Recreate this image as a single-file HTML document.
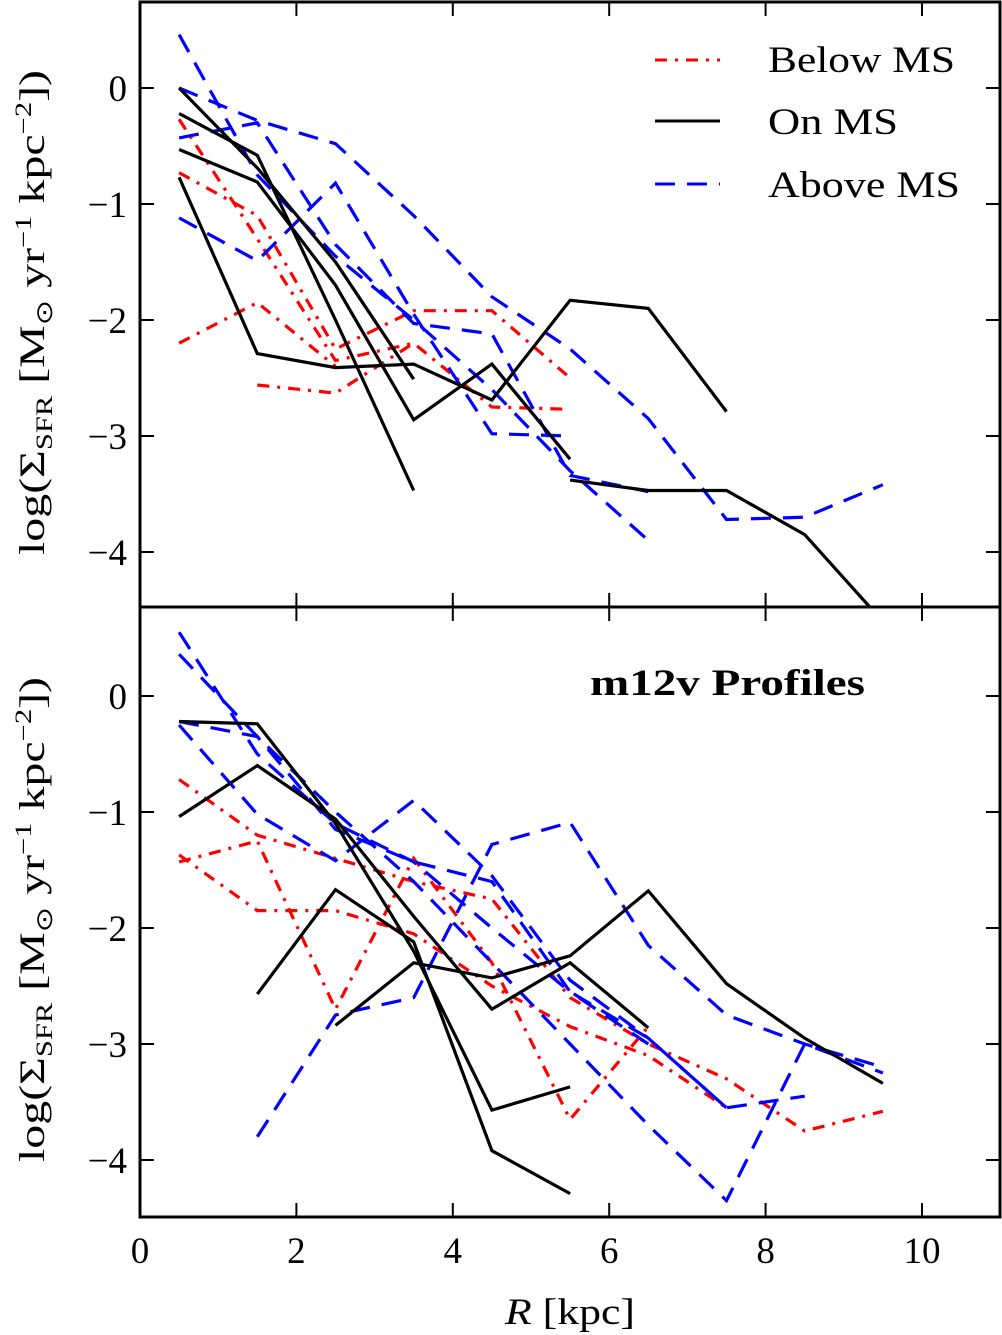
<!DOCTYPE html>
<html><head><meta charset="utf-8">
<style>
body{margin:0;background:#fff;}
svg{display:block;font-family:"Liberation Serif",serif;}
</style></head>
<body>
<svg id="chart" width="1002" height="1335" viewBox="0 0 1002 1335" xmlns="http://www.w3.org/2000/svg">
<defs>
<clipPath id="clipTop"><rect x="140" y="2" width="860" height="605"/></clipPath>
<clipPath id="clipBot"><rect x="140" y="607" width="860" height="610"/></clipPath>
</defs>
<g id="topSeries" clip-path="url(#clipTop)"></g>
<g id="botSeries" clip-path="url(#clipBot)"></g>
<g id="axes"></g>
<g>
  <line x1="655" y1="60" x2="720" y2="60" stroke="#f00" stroke-width="3" stroke-dasharray="12,8,3,8"/>
  <text x="768" y="72" font-size="37" textLength="187" lengthAdjust="spacingAndGlyphs">Below MS</text>
  <line x1="655" y1="121" x2="720" y2="121" stroke="#000" stroke-width="3"/>
  <text x="768" y="134" font-size="37" textLength="130" lengthAdjust="spacingAndGlyphs">On MS</text>
  <line x1="655" y1="184" x2="720" y2="184" stroke="#00f" stroke-width="3" stroke-dasharray="20,12"/>
  <text x="768" y="197" font-size="37" textLength="192" lengthAdjust="spacingAndGlyphs">Above MS</text>
</g>
<text x="590" y="695" font-size="37" font-weight="bold" textLength="275" lengthAdjust="spacingAndGlyphs">m12v Profiles</text>
<text x="505" y="1324" font-size="37" textLength="130" lengthAdjust="spacingAndGlyphs"><tspan font-style="italic">R</tspan> [kpc]</text>
<text x="0" y="0" transform="translate(44,555) rotate(-90)" font-size="36" textLength="485" lengthAdjust="spacingAndGlyphs">log(Σ<tspan font-size="23" dy="8">SFR</tspan><tspan dy="-8"> [M</tspan><tspan font-size="23" dy="8">⊙</tspan><tspan dy="-8"> yr</tspan><tspan font-size="23" dy="-13">−1</tspan><tspan dy="13"> kpc</tspan><tspan font-size="23" dy="-13">−2</tspan><tspan dy="13">])</tspan></text>
<text x="0" y="0" transform="translate(44,1162) rotate(-90)" font-size="36" textLength="485" lengthAdjust="spacingAndGlyphs">log(Σ<tspan font-size="23" dy="8">SFR</tspan><tspan dy="-8"> [M</tspan><tspan font-size="23" dy="8">⊙</tspan><tspan dy="-8"> yr</tspan><tspan font-size="23" dy="-13">−1</tspan><tspan dy="13"> kpc</tspan><tspan font-size="23" dy="-13">−2</tspan><tspan dy="13">])</tspan></text>
<script>
const radii = [0.5,1.5,2.5,3.5,4.5,5.5,6.5,7.5,8.5,9.5];
const xTicks = [0,2,4,6,8,10];
const yTicks = [0,-1,-2,-3,-4];
const yTickLabels = ["0","−1","−2","−3","−4"];
// top panel
const topBelow1 = [-0.27,-1.3,-2.35,-2.2,-2.75,-2.77];
const topBelow2 = [-0.73,-1.1,-2.25,-1.92,-1.92,-2.5];
const topBelow3 = [null,-2.56,-2.63,-2.2];
const topBelow4 = [-2.2,-1.85,-2.4];
const topOn1 = [0.0,-0.69,-1.5,-2.51];
const topOn2 = [-0.22,-0.58,-2.0,-3.47];
const topOn3 = [-0.53,-0.81,-1.7,-2.86,-2.38,-3.2];
const topOn4 = [-0.77,-2.29,-2.41,-2.38,-2.69,-1.83,-1.9,-2.79];
const topOn5 = [null,null,null,null,null,-3.38,-3.47,-3.47,-3.85,-4.6];
const topAbove1 = [0.0,-0.28,-0.48,-1.1,-1.8,-2.25,-2.85,-3.72,-3.7,-3.42];
const topAbove2 = [-0.43,-0.3,-1.35,-2.03,-2.12,-3.34,-3.48];
const topAbove3 = [0.46,-0.75,-1.45,-2.0,-2.6,-3.3,-3.9];
const topAbove4 = [-1.12,-1.49,-0.82,-1.95,-2.98,-3.0];
// bottom panel
const botBelow1 = [-0.72,-1.2,-1.4,-1.6,-1.75,-2.6,-3.0,-3.3,-3.75,-3.58];
const botBelow2 = [-1.37,-1.85,-1.85,-2.05,-2.5,-2.85,-3.1,-3.55];
const botBelow3 = [-1.43,-1.25,-2.7,-1.4,-2.3,-3.65,-2.85];
const botOn1 = [-0.22,-0.24,-1.1,-2.2,-3.57,-3.37];
const botOn2 = [-1.04,-0.6,-1.06,-1.9,-2.7,-2.3,-2.86];
const botOn3 = [null,-2.57,-1.67,-2.12,-3.92,-4.29];
const botOn4 = [null,null,-2.84,-2.3,-2.43,-2.24,-1.68,-2.48,-2.95,-3.34];
const botAbove1 = [0.55,-0.5,-1.1,-1.43,-2.0,-2.55,-2.95,-3.55,-3.45];
const botAbove2 = [0.36,-0.35,-1.0,-1.6,-2.3,-3.0,-3.7,-4.35,-3.0,-3.25];
const botAbove3 = [-0.22,-0.35,-1.15,-1.43,-1.6,-2.55,-3.0];
const botAbove4 = [null,-3.8,-2.75,-2.6,-1.28,-1.09,-2.15,-2.75,-3.0,-3.2];
const botAbove5 = [-0.25,-1.02,-1.42,-0.9,-1.55,-2.45,-2.95,-3.55];

const NS = "http://www.w3.org/2000/svg";
const X0 = 140, X1 = 1000;
function xScale(r){ return X0 + r*78.2; }
const panels = {
  top: {y0:2, y1:607, zero:88},
  bot: {y0:607, y1:1217, zero:696}
};
function yScale(p, v){ return panels[p].zero - v*116; }
const styles = {
  below: {stroke:"#f00", dash:"12,8,3,8"},
  on: {stroke:"#000", dash:""},
  above: {stroke:"#00f", dash:"20,12"}
};
function drawLine(groupId, panel, vals, kind, name){
  const pts = [];
  vals.forEach((v,i)=>{ if(v!==null && v!==undefined) pts.push(xScale(radii[i]).toFixed(1)+","+yScale(panel,v).toFixed(1)); });
  const pl = document.createElementNS(NS,"polyline");
  pl.setAttribute("points", pts.join(" "));
  pl.setAttribute("fill","none");
  pl.setAttribute("stroke", styles[kind].stroke);
  pl.setAttribute("stroke-width","3.2");
  pl.setAttribute("stroke-linejoin","miter");
  if(styles[kind].dash) pl.setAttribute("stroke-dasharray", styles[kind].dash);
  
  
  document.getElementById(groupId).appendChild(pl);
}
[[topBelow1,"below"],[topBelow2,"below"],[topBelow3,"below"],[topBelow4,"below"],
 [topAbove1,"above"],[topAbove2,"above"],[topAbove3,"above"],[topAbove4,"above"],
 [topOn1,"on"],[topOn2,"on"],[topOn3,"on"],[topOn4,"on"],[topOn5,"on"]]
 .forEach((s,i)=>drawLine("topSeries","top",s[0],s[1],"top-"+s[1]+"-ms-line-"+(i+1)));
[[botBelow1,"below"],[botBelow2,"below"],[botBelow3,"below"],
 [botAbove1,"above"],[botAbove2,"above"],[botAbove3,"above"],[botAbove4,"above"],[botAbove5,"above"],
 [botOn1,"on"],[botOn2,"on"],[botOn3,"on"],[botOn4,"on"]]
 .forEach((s,i)=>drawLine("botSeries","bot",s[0],s[1],"bottom-"+s[1]+"-ms-line-"+(i+1)));

const axes = document.getElementById("axes");
function mk(tag, attrs, name){
  const e = document.createElementNS(NS, tag);
  for(const k in attrs) e.setAttribute(k, attrs[k]);
  
  
  axes.appendChild(e);
  return e;
}
["top","bot"].forEach(p=>{
  const P = panels[p];
  mk("rect",{x:X0,y:P.y0,width:X1-X0,height:P.y1-P.y0,fill:"none",stroke:"#000","stroke-width":3}, p+"-panel-frame");
  xTicks.forEach(t=>{
    const x = xScale(t);
    mk("line",{x1:x,y1:P.y0,x2:x,y2:P.y0+14,stroke:"#000","stroke-width":2}, p+"-x-tick-top");
    mk("line",{x1:x,y1:P.y1,x2:x,y2:P.y1-14,stroke:"#000","stroke-width":2}, p+"-x-tick-bottom");
  });
  yTicks.forEach((t,i)=>{
    const y = yScale(p,t);
    mk("line",{x1:X0,y1:y,x2:X0+14,y2:y,stroke:"#000","stroke-width":2}, p+"-y-tick-left");
    mk("line",{x1:X1,y1:y,x2:X1-14,y2:y,stroke:"#000","stroke-width":2}, p+"-y-tick-right");
    const tx = mk("text",{x:127,y:y+13,"font-size":37,"text-anchor":"end"}, p+"-y-tick-label");
    tx.textContent = yTickLabels[i];
  });
});
xTicks.forEach(t=>{
  const tx = mk("text",{x:xScale(t),y:1263,"font-size":37,"text-anchor":"middle"}, "x-tick-label");
  tx.textContent = String(t);
});
</script>
</svg>
</body></html>
